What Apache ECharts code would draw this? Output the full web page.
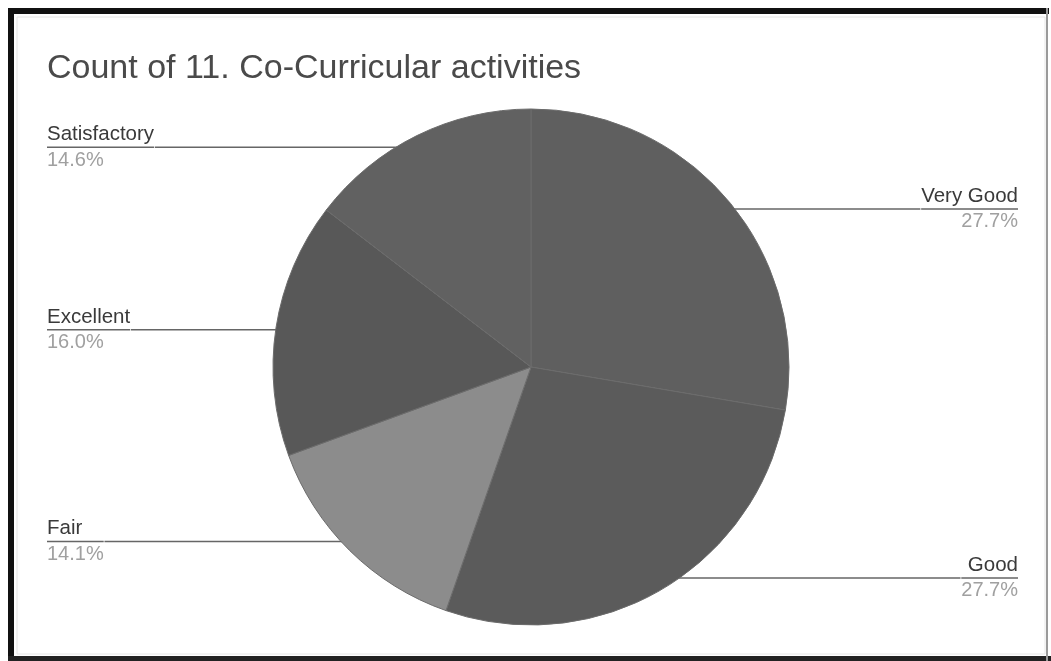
<!DOCTYPE html>
<html>
<head>
<meta charset="utf-8">
<script src="https://cdn.jsdelivr.net/npm/echarts@6/dist/echarts.min.js"></script>
<style>
html,body{margin:0;padding:0;background:#fff;}
#chart{width:1051px;height:661px;}
</style>
</head>
<body>
<div id="chart"></div>
<script>
const titleText = 'Count of 11. Co-Curricular activities';
const categories = ['Very Good', 'Good', 'Fair', 'Excellent', 'Satisfactory'];
const percentages = [27.7, 27.7, 14.1, 16.0, 14.6];
const sliceColors = ['#5f5f5f', '#5b5b5b', '#8c8c8c', '#585858', '#616161'];

const chart = echarts.init(document.getElementById('chart'), null, {renderer: 'canvas'});
const data = categories.map((c, i) => ({
  name: c,
  value: percentages[i],
  itemStyle: {color: sliceColors[i]}
}));

chart.setOption({
  backgroundColor: '#ffffff',
  animation: false,
  title: {
    text: titleText,
    left: 47,
    top: 52,
    padding: 0,
    textStyle: {
      fontFamily: 'Liberation Sans',
      fontSize: 34,
      fontWeight: 'normal',
      color: '#4a4a4a'
    }
  },
  graphic: [
    {type: 'rect', shape: {x: 17, y: 17, width: 1028, height: 637}, style: {fill: 'none', stroke: '#e6e6e6', lineWidth: 1}, silent: true},
    {type: 'rect', shape: {x: 8, y: 8, width: 1041, height: 6}, style: {fill: '#111'}, silent: true},
    {type: 'rect', shape: {x: 8, y: 8, width: 6, height: 653}, style: {fill: '#111'}, silent: true},
    {type: 'rect', shape: {x: 8, y: 656, width: 1043, height: 5}, style: {fill: '#222'}, silent: true},
    {type: 'rect', shape: {x: 1046, y: 8, width: 2, height: 653}, style: {fill: '#9a9a9a'}, silent: true}
  ],
  series: [{
    type: 'pie',
    left: 14,
    right: 0,
    top: 0,
    bottom: 0,
    center: [517, 367],
    radius: 258,
    startAngle: 90,
    clockwise: true,
    avoidLabelOverlap: false,
    data: data,
    itemStyle: {borderColor: '#6c6c6c', borderWidth: 1},
    emphasis: {disabled: true},
    label: {
      show: true,
      position: 'outer',
      alignTo: 'edge',
      edgeDistance: 33,
      formatter: p => '{name|' + p.name + '}\n{hr|}\n{pct|' + p.value.toFixed(1) + '%}',
      rich: {
        name: {fontFamily: 'Liberation Sans', fontSize: 20.5, color: '#3a3a3a', lineHeight: 26},
        hr: {width: '100%', height: 0, lineHeight: 0, borderColor: '#666', borderWidth: 1.5},
        pct: {fontFamily: 'Liberation Sans', fontSize: 20, color: '#a0a0a0', lineHeight: 26}
      }
    },
    labelLine: {
      show: true,
      length: -13,
      length2: 10,
      smooth: false,
      minTurnAngle: 0,
      lineStyle: {color: '#666', width: 1.5}
    },
    labelLayout: function (params) {
      const pts = params.labelLinePoints;
      if (!pts || pts.length < 2) return {};
      const r = params.labelRect;
      const start = pts[1];
      const isLeft = r.x + r.width / 2 < start[0];
      const endX = isLeft ? r.x + r.width : r.x;
      return {labelLinePoints: [start, [endX, start[1]]]};
    }
  }]
});
</script>
</body>
</html>
